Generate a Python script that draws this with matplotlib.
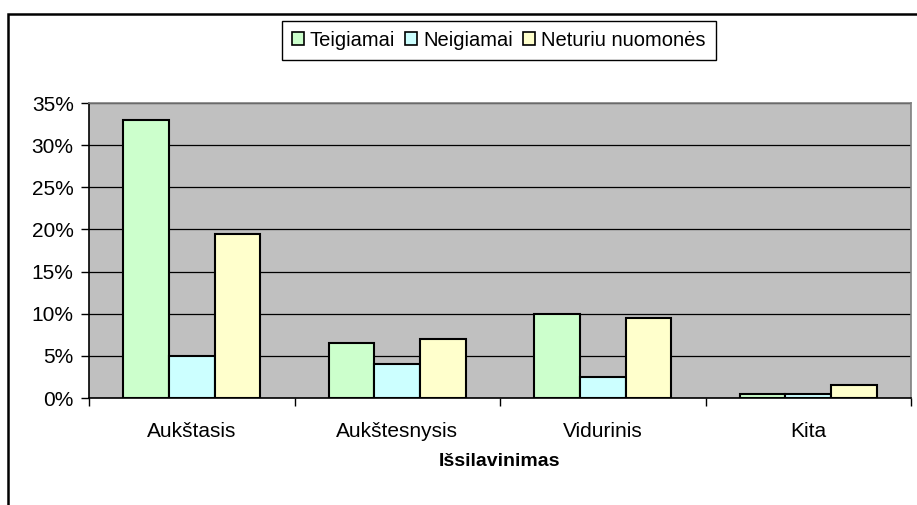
import numpy as np
import matplotlib.pyplot as plt
from matplotlib.patches import Rectangle
from matplotlib.ticker import PercentFormatter

plt.rcParams['font.family'] = ['Liberation Sans', 'DejaVu Sans']

categories = ['Aukštasis', 'Aukštesnysis', 'Vidurinis', 'Kita']
series = ['Teigiamai', 'Neigiamai', 'Neturiu nuomonės']
teigiamai = [33, 6.5, 10, 0.5]
neigiamai = [5, 4, 2.5, 0.5]
neturiu = [19.5, 7, 9.5, 1.5]
colors = ['#CCFFCC', '#CCFFFF', '#FFFFCC']

fig = plt.figure(figsize=(9.17, 5.05), dpi=100)
ax = fig.add_axes([89 / 917, 1 - 398 / 505, 822 / 917, 295 / 505])
ax.set_facecolor('#C0C0C0')

x = np.arange(len(categories))
w = 0.667 / 3
for i, (vals, name) in enumerate(zip([teigiamai, neigiamai, neturiu], series)):
    ax.bar(x + (i - 1) * w, vals, w, color=colors[i], edgecolor='black',
           linewidth=1.5, label=name, zorder=3)

ax.set_xlim(-0.5, len(categories) - 0.5)
ax.set_ylim(0, 35)
ax.set_yticks(np.arange(0, 36, 5))
ax.yaxis.set_major_formatter(PercentFormatter(decimals=0))
ax.yaxis.grid(True, color='black', linewidth=0.9, zorder=1)
ax.set_axisbelow(True)

ax.set_xticks(x)
ax.set_xticklabels(categories)
ax.set_xticks(np.arange(-0.5, len(categories), 1), minor=True)
ax.tick_params(axis='x', which='major', length=0, pad=17, labelsize=15)
ax.tick_params(axis='x', which='minor', length=6, width=1, direction='out')
ax.tick_params(axis='y', length=6, width=1, direction='out', labelsize=15, pad=5)

for s in ['top', 'right']:
    ax.spines[s].set_color('#808080')
    ax.spines[s].set_linewidth(1.2)
for s in ['left', 'bottom']:
    ax.spines[s].set_color('black')
    ax.spines[s].set_linewidth(1.2)

ax.set_xlabel('Išsilavinimas', fontsize=14, fontweight='bold', labelpad=9)

leg = fig.legend(loc='center', bbox_to_anchor=(0.544, 0.92), ncol=3,
                 fontsize=14.5, fancybox=False, edgecolor='black',
                 handlelength=0.6, handleheight=0.6, handletextpad=0.3,
                 columnspacing=0.5, borderpad=0.5, framealpha=1)
leg.get_frame().set_linewidth(1.0)
for h in leg.legend_handles:
    h.set_linewidth(1.2)

# outer chart frame (cropped at right and bottom)
fig.patches.append(Rectangle((8 / 917, -0.1), 2, 1 - 14 / 505 + 0.1,
                             transform=fig.transFigure, fill=False,
                             edgecolor='black', linewidth=1.8))

fig.savefig('out.png', dpi=100)
